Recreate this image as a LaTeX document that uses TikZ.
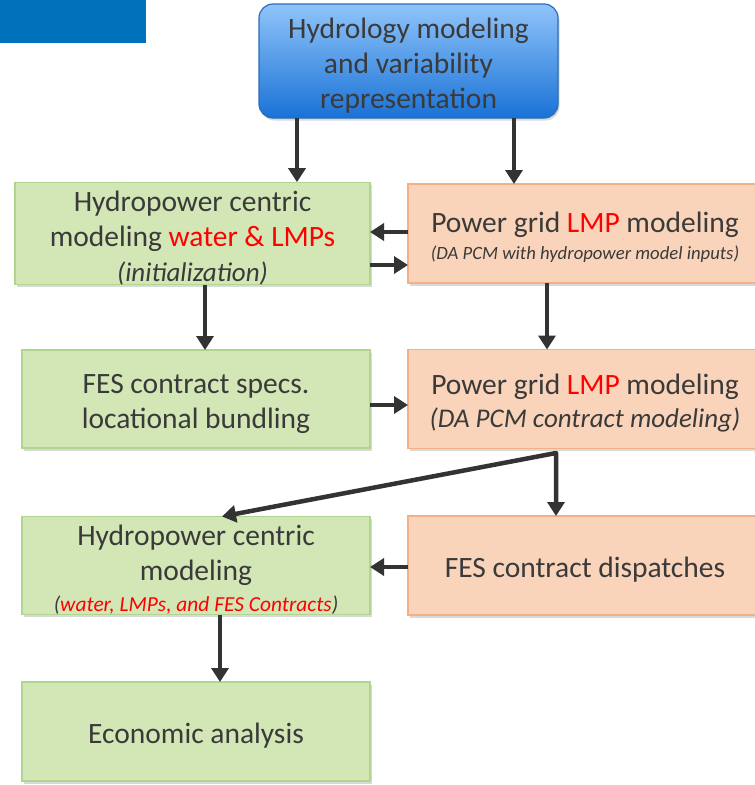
\documentclass[tikz,border=0pt]{standalone}
\usepackage{fontspec}
\setmainfont{Carlito}
\usetikzlibrary{arrows.meta,shadows}
\definecolor{txtgray}{HTML}{3A3A3A}
\definecolor{arrgray}{HTML}{333333}
\definecolor{cornerblue}{HTML}{0072BC}
\definecolor{hydrotop}{HTML}{90C4FA}
\definecolor{hydrobot}{HTML}{1A72D6}
\definecolor{hydroedge}{HTML}{2A6DB8}
\definecolor{boxgreen}{HTML}{D3E6B6}
\definecolor{edgegreen}{HTML}{B0D58F}
\definecolor{boxorange}{HTML}{FAD4BA}
\definecolor{edgeorange}{HTML}{F3B183}
\newcommand{\hl}[1]{\textcolor{red}{#1}}
\newcommand{\sub}[1]{\fontsize{#1}{#1}\selectfont\itshape}
\newcommand{\lift}{\rule{0pt}{29pt}}
\begin{document}
\begin{tikzpicture}[x=1pt, y=-1pt,
    box/.style={draw, line width=1.2pt, inner sep=0pt, outer sep=0pt, align=center, text=txtgray,
        font=\fontsize{29.5}{35}\selectfont,
        drop shadow={shadow xshift=1.5pt, shadow yshift=-2.5pt, opacity=0.3}},
    greenbox/.style={box, fill=boxgreen, draw=edgegreen, minimum width=348pt, minimum height=98pt},
    orangebox/.style={box, fill=boxorange, draw=edgeorange, minimum width=354pt, minimum height=99pt},
    arr/.style={-{Triangle[width=17pt,length=14pt]}, line width=4.5pt, draw=arrgray}]
\useasboundingbox (0,0) rectangle (755,785);

% corner tab
\fill[cornerblue] (0,0) rectangle (146,43);

% boxes
\node[box, rounded corners=14pt, top color=hydrotop, bottom color=hydrobot, draw=hydroedge,
    minimum width=299pt, minimum height=114pt] (hydro) at (408.5,61)
    {\lift Hydrology modeling\\ and variability\\ representation};
\node[greenbox, minimum width=355pt] (gA) at (192.5,233.5)
    {\lift Hydropower centric\\ modeling \hl{water \& LMPs}\\ {\sub{27}(initialization)}};
\node[orangebox] (oA) at (585,233.5)
    {\lift Power grid \hl{LMP} modeling\\[-8pt] {\sub{18.7}(DA PCM with hydropower model inputs)}};
\node[greenbox] (gB) at (196,399)
    {\lift FES contract specs.\\ locational bundling};
\node[orangebox] (oB) at (585,399)
    {\lift Power grid \hl{LMP} modeling\\[-2pt] {\sub{27}(DA PCM contract modeling)}};
\node[greenbox] (gC) at (196,565.5)
    {\lift Hydropower centric\\ modeling\\[-4pt] {\sub{21.4}(\hl{water, LMPs, and FES Contracts})}};
\node[orangebox] (oC) at (585,565.5)
    {\lift FES contract dispatches};
\node[greenbox, minimum height=99pt] (gD) at (196,731.5)
    {\lift Economic analysis};

\coordinate (split) at (556,453);

% arrows
\draw[arr] (297,0 |- hydro.south) -- (297,0 |- gA.north);
\draw[arr] (514,0 |- hydro.south) -- (514,0 |- oA.north);
\draw[arr] (oA.west |- 0,232) -- (gA.east |- 0,232);
\draw[arr] (gA.east |- 0,265) -- (oA.west |- 0,265);
\draw[arr] (205,0 |- gA.south) -- (205,0 |- gB.north);
\draw[arr] (547,0 |- oA.south) -- (547,0 |- oB.north);
\draw[arr] (gB.east |- 0,405) -- (oB.west |- 0,405);
\draw[arr, {Triangle[width=17pt,length=14pt]}-{Triangle[width=17pt,length=14pt]}, line join=round]
    (222,0 |- gC.north) -- (split) -- (split |- oC.north);
\draw[arr] (oC.west |- 0,567) -- (gC.east |- 0,567);
\draw[arr] (220,0 |- gC.south) -- (220,0 |- gD.north);
\end{tikzpicture}
\end{document}
